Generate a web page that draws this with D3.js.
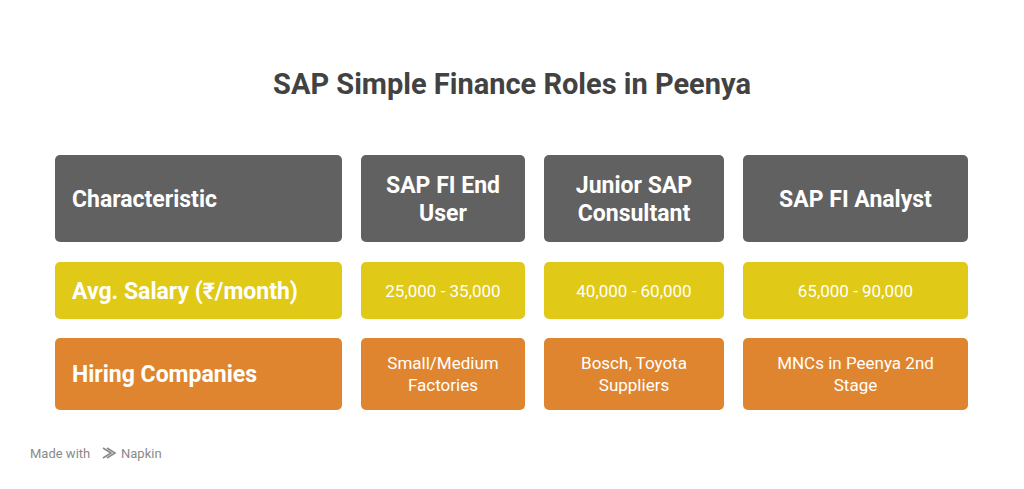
<!DOCTYPE html>
<html>
<head>
<meta charset="utf-8">
<script src="https://cdn.jsdelivr.net/npm/d3@7"></script>
<style>
  body { margin: 0; background: #fff; }
  svg { display: block; font-family: Roboto, "Open Sans", sans-serif; }
</style>
</head>
<body>
<svg id="chart" width="1024" height="489"></svg>
<script>
// table content
var columns = ["Characteristic", "SAP FI End User", "Junior SAP Consultant", "SAP FI Analyst"];
var headerLines = [["Characteristic"], ["SAP FI End", "User"], ["Junior SAP", "Consultant"], ["SAP FI Analyst"]];
var rowNames = ["Avg. Salary (₹/month)", "Hiring Companies"];
var salaryCells = [["25,000 - 35,000"], ["40,000 - 60,000"], ["65,000 - 90,000"]];
var companyCells = [["Small/Medium", "Factories"], ["Bosch, Toyota", "Suppliers"], ["MNCs in Peenya 2nd", "Stage"]];
var rowColors = ["#616161", "#e0c917", "#e0852f"];

var svg = d3.select("#chart");

svg.append("text")
  .attr("x", 512).attr("y", 94)
  .attr("text-anchor", "middle")
  .style("font-size", "29px").style("font-weight", "bold").style("fill", "#424242")
  .text("SAP Simple Finance Roles in Peenya");

// column edges
var colX = [55, 361, 544, 743];
var colW = [287, 164, 180, 225];
var rowY = [155, 262, 338];
var rowH = [87, 57, 72];

var rows = [
  headerLines,
  [[rowNames[0]]].concat(salaryCells),
  [[rowNames[1]]].concat(companyCells)
];

rows.forEach(function (cells, r) {
  cells.forEach(function (lines, c) {
    var g = svg.append("g");
    g.append("rect")
      .attr("x", colX[c]).attr("y", rowY[r])
      .attr("width", colW[c]).attr("height", rowH[r])
      .attr("rx", 5)
      .style("fill", rowColors[r]);
    var big = (r === 0 || c === 0);
    var fs = big ? 23 : 17;
    var lh = big ? 28 : 22;
    var cy = rowY[r] + rowH[r] / 2;
    var t = g.append("text")
      .attr("x", c === 0 ? colX[c] + 17 : colX[c] + colW[c] / 2)
      .attr("text-anchor", c === 0 ? "start" : "middle")
      .style("font-size", fs + "px")
      .style("font-weight", big ? "bold" : "normal")
      .style("fill", "#fff");
    lines.forEach(function (ln, i) {
      t.append("tspan")
        .attr("x", c === 0 ? colX[c] + 17 : colX[c] + colW[c] / 2)
        .attr("y", cy + (i - (lines.length - 1) / 2) * lh + fs * 0.36)
        .text(ln);
    });
  });
});

// footer
svg.append("text")
  .attr("x", 30).attr("y", 458)
  .style("font-size", "13px").style("fill", "#8a8a8a")
  .text("Made with");
svg.append("path")
  .attr("d", "M103,448 l8,5 l-8,5 M107,448 l8,5 l-8,5")
  .style("fill", "none").style("stroke", "#8a8a8a").style("stroke-width", 1.6);
svg.append("text")
  .attr("x", 121).attr("y", 458)
  .style("font-size", "13px").style("fill", "#8a8a8a")
  .text("Napkin");
</script>
</body>
</html>
